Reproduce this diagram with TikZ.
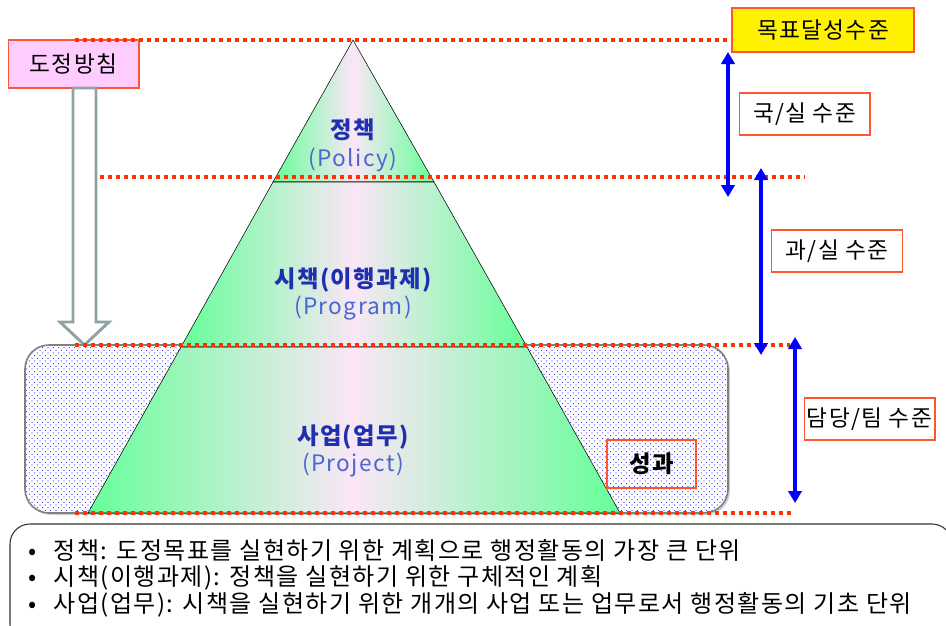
\documentclass[tikz,border=0pt]{standalone}
\usepackage{fontspec}
\setmainfont{Noto Sans CJK KR}
\newfontfamily\krwide[LetterSpace=6]{Noto Sans CJK KR}
\usetikzlibrary{arrows.meta,patterns,shadows}
\definecolor{mint}{HTML}{66FF99}
\definecolor{blush}{HTML}{FBE6F7}
\definecolor{redline}{HTML}{FF3300}
\definecolor{boxred}{HTML}{FF5533}
\definecolor{ink}{HTML}{1F2FB0}
\definecolor{lightink}{HTML}{4A66D0}
\definecolor{arrowgray}{HTML}{8FA3A3}
\definecolor{pinkbox}{HTML}{FFCCFF}
\pgfdeclarepatternformonly{bluedots}{\pgfqpoint{-1pt}{-1pt}}{\pgfqpoint{5pt}{5pt}}{\pgfqpoint{4pt}{4pt}}
{ \pgfpathcircle{\pgfqpoint{0pt}{0pt}}{0.45pt}
  \pgfpathcircle{\pgfqpoint{2pt}{2pt}}{0.45pt}
  \pgfusepath{fill} }

\begin{document}
\begin{tikzpicture}
[ x=0.75pt, y=-0.75pt, font=\fontsize{17}{20}\krwide
, levelbox/.style={rectangle, draw=boxred, line width=1pt, minimum width=98pt, minimum height=31.5pt, inner sep=0pt}
, layer/.style={draw=black, thin, left color=mint, right color=mint, middle color=blush}
, title/.style={font=\fontsize{17.5}{20}\krwide\bfseries, text=ink}
, subtitle/.style={font=\fontsize{17}{20}\krwide, text=lightink}
, level/.style={draw=redline, line width=2.4pt, dash pattern=on 3pt off 3pt}
, span/.style={{Triangle[length=9pt,width=10pt]}-{Triangle[length=9pt,width=10pt]}, blue, line width=3pt}
, hollow/.style={draw=arrowgray, line width=2.2pt, fill=white}
, zone/.style={rounded corners=18pt}
, note/.style={anchor=west, font=\fontsize{18}{20}\krwide, inner sep=0pt}
]
\clip (0,0) rectangle (946,625);
% Work zone:
\fill[zone, white, drop shadow={shadow xshift=1.5pt, shadow yshift=-1.5pt, fill=gray!70}] (25,345) rectangle (728,513);
\fill[zone, pattern=bluedots, pattern color=blue!80] (25,345) rectangle (728,513);
\draw[zone, gray, line width=1.2pt] (25,345) rectangle (728,513);
% Pyramid:
\coordinate (apex) at (353,40);
\coordinate (p1l) at (273,182);
\coordinate (p1r) at (434,182);
\coordinate (p2l) at (181,347);
\coordinate (p2r) at (527,347);
\coordinate (p3l) at (88,513);
\coordinate (p3r) at (620,513);
\draw[layer] (apex) -- (p1r) -- (p1l) -- cycle;
\draw[layer] (p1l) -- (p1r) -- (p2r) -- (p2l) -- cycle;
\draw[layer] (p2l) -- (p2r) -- (p3r) -- (p3l) -- cycle;
\node (policy) [title] at (353,130) {정책};
\node (policyen) [subtitle] at (353,160) {(Policy)};
\node (program) [title] at (353,280) {시책(이행과제)};
\node (programen) [subtitle] at (353,308) {(Program)};
\node (project) [title] at (353,437) {사업(업무)};
\node (projecten) [subtitle] at (353,465) {(Project)};
\node (result) [levelbox, minimum width=66.75pt, minimum height=36pt, font=\fontsize{17.5}{20}\krwide\bfseries] at (651.5,464) {성과};
% Guideline box and arrow:
\node (guide) [levelbox, fill=pinkbox, minimum height=36pt] at (73.5,64) {도정방침};
\draw[hollow] (73,88) -- (73,322) -- (60,322) -- (84.5,345) -- (109,322) -- (96,322) -- (96,88) -- cycle;
% Level lines:
\draw[level] (75,40) -- (728,40);
\draw[level] (100,177) -- (805,177);
\draw[level] (75,345) -- (790,345);
\draw[level] (75,513) -- (793,513);
% Level boxes:
\node (goal) [levelbox, fill=yellow, minimum width=136.5pt, minimum height=33pt] at (823,30) {목표달성수준};
\node (office) [levelbox] at (804.5,114) {국/실 수준};
\node (division) [levelbox] at (837,251) {과/실 수준};
\node (team) [levelbox] at (869.5,419) {담당/팀 수준};
\coordinate (o1) at (728,52);
\coordinate (o2) at (728,197);
\coordinate (d1) at (761,168);
\coordinate (d2) at (761,355);
\coordinate (t1) at (795,337);
\coordinate (t2) at (795,503);
\draw[span] (o1) -- (o2);
\draw[span] (d1) -- (d2);
\draw[span] (t1) -- (t2);
% Notes:
\draw[rounded corners=15pt, line width=0.8pt, black!80] (10,524) rectangle (952,645);
\node (note1) [note] at (28,550) {•\hspace{13pt}정책: 도정목표를 실현하기 위한 계획으로 행정활동의 가장 큰 단위};
\node (note2) [note] at (28,578) {•\hspace{13pt}시책(이행과제): 정책을 실현하기 위한 구체적인 계획};
\node (note3) [note] at (28,605) {•\hspace{13pt}사업(업무): 시책을 실현하기 위한 개개의 사업 또는 업무로서 행정활동의 기초 단위};
\end{tikzpicture}
\end{document}
